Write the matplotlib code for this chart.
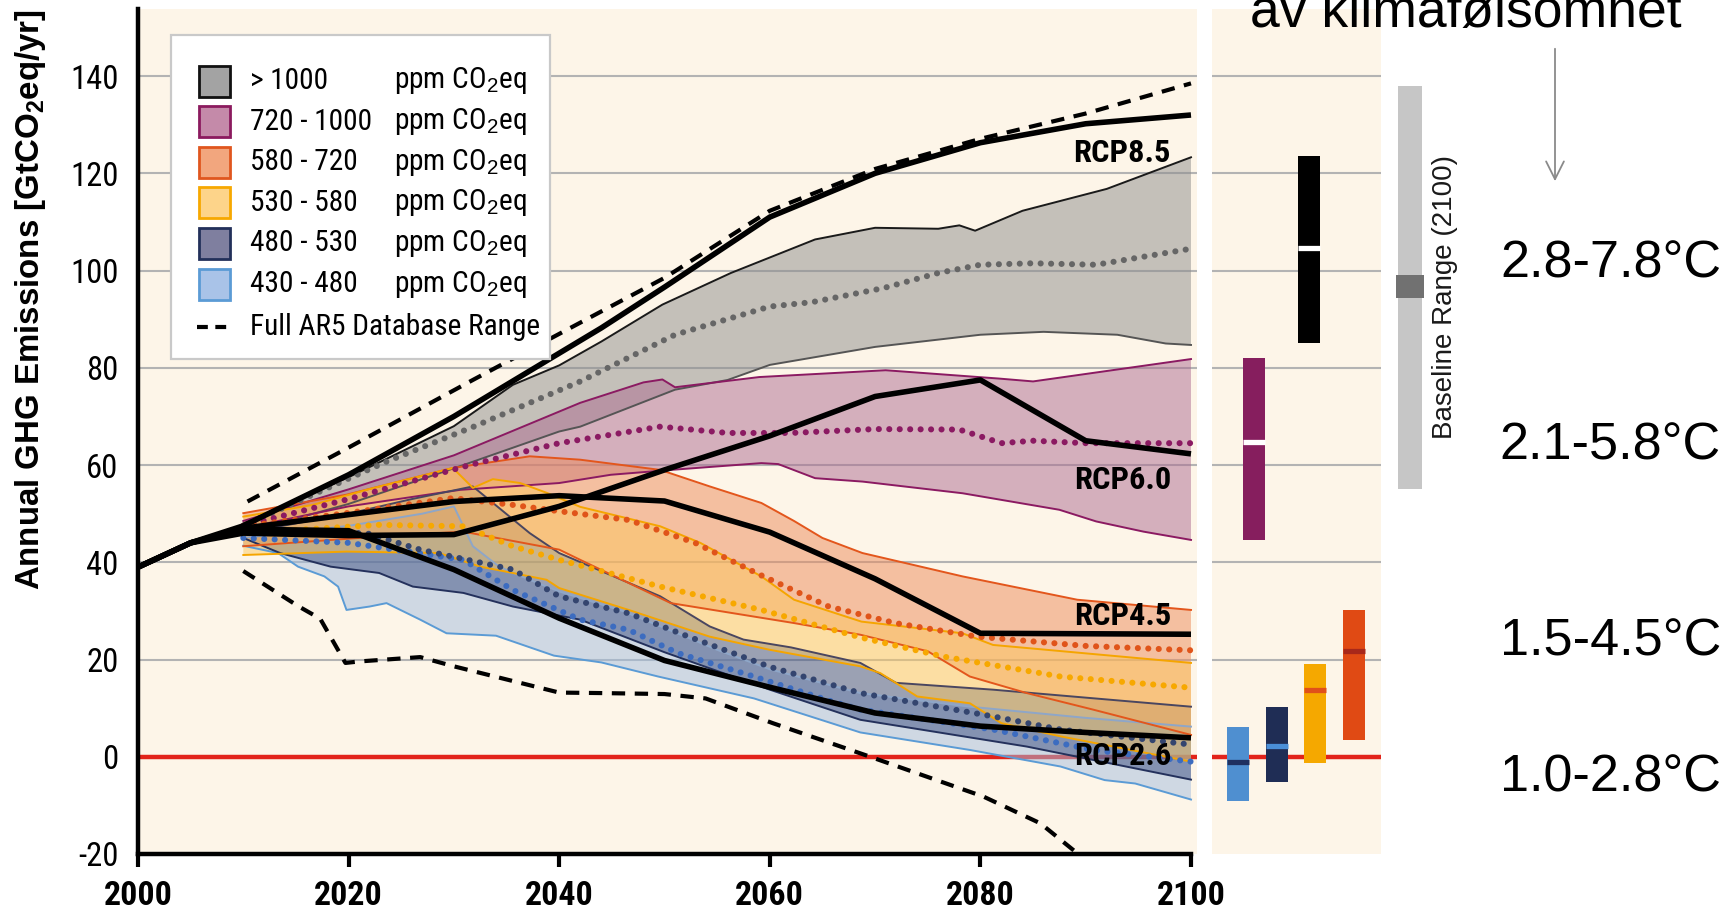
import os
import numpy as np
import matplotlib
matplotlib.use("Agg")
import matplotlib.pyplot as plt
from matplotlib import font_manager as fm
from matplotlib.patches import Rectangle

# ------------------------------------------------------------------ data
# RCP pathways (GtCO2eq/yr)
rcp85_x = [2000, 2005, 2010, 2020, 2030, 2040, 2044, 2050, 2060, 2070, 2080, 2090, 2100]
rcp85_y = [39, 44, 47.5, 58, 70, 83, 88.2, 96.6, 111, 120, 126.3, 130.2, 132]
rcp60_x = [2000, 2005, 2010, 2020, 2030, 2040, 2050, 2060, 2070, 2080, 2090, 2100]
rcp60_y = [39, 44, 46, 45.5, 45.7, 51.5, 59, 66, 74.1, 77.5, 65, 62.3]
rcp45_x = [2000, 2005, 2010, 2020, 2030, 2040, 2050, 2060, 2070, 2080, 2090, 2100]
rcp45_y = [39, 44, 47, 49.8, 52.5, 53.7, 52.6, 46.2, 36.6, 25.4, 25.3, 25.2]
rcp26_x = [2000, 2005, 2010, 2020, 2030, 2040, 2050, 2060, 2070, 2080, 2090, 2100]
rcp26_y = [39, 44, 46.8, 46.5, 38.5, 28.5, 19.8, 14.3, 9, 6.3, 5, 3.9]
rcp_names = ["RCP8.5", "RCP6.0", "RCP4.5", "RCP2.6"]
rcp_label_y = [122.3, 55.0, 27.1, -1.65]

# Full AR5 database range
ar5_hi_x = [2010.4, 2020, 2031.8, 2044, 2050, 2060, 2070, 2080, 2090, 2100]
ar5_hi_y = [52.5, 63.6, 77.5, 91.6, 98.5, 112.3, 120.9, 127.1, 132.3, 138.5]
ar5_lo_x = [2010, 2015.2, 2017.3, 2019.7, 2021, 2026.8, 2030, 2040, 2044, 2050, 2053.9,
            2060.3, 2069.4, 2080.3, 2085.7, 2089]
ar5_lo_y = [38.2, 31, 28.4, 19.3, 19.6, 20.5, 18.6, 13.2, 13.1, 12.9, 12, 6.9, 0.1, -8.2,
            -13.7, -19.5]

# > 1000 ppm
b1000_up_x = [2010, 2020, 2030, 2035.6, 2040, 2044, 2049.8, 2056.3, 2064.3, 2070, 2076, 2078,
              2079.5, 2084, 2092, 2100]
b1000_up_y = [48, 57.5, 68, 76.5, 80.5, 85.4, 93, 99.5, 106.4, 108.8, 108.6, 109.3, 108.2,
              112.3, 116.8, 123.3]
b1000_md_x = [2010, 2023.6, 2032, 2042, 2051, 2060, 2064, 2070.8, 2076, 2080, 2085, 2091, 2100]
b1000_md_y = [47.5, 60.7, 68, 77.2, 86.8, 92.6, 93.5, 96.4, 99.5, 101.2, 101.5, 101.2, 104.5]
b1000_lo_x = [2010, 2020, 2030.9, 2040, 2042, 2051, 2056, 2060, 2070, 2080, 2086, 2093, 2097.6, 2100]
b1000_lo_y = [46, 52, 60, 66.9, 67.9, 75.5, 77.5, 80.6, 84.3, 86.8, 87.4, 86.8, 85, 84.7]

# 720 - 1000 ppm
b720_up_x = [2010, 2020, 2030, 2042, 2048, 2049.8, 2051, 2059, 2071, 2081.7, 2085, 2100]
b720_up_y = [48.5, 55, 62, 72.8, 77, 77.6, 76, 78.1, 79.5, 77.8, 77.2, 81.8]
b720_md_x = [2010, 2020, 2031.5, 2040, 2049.6, 2056, 2062, 2070, 2078, 2082, 2085, 2090, 2100]
b720_md_y = [47.5, 53, 60, 64.5, 67.9, 66.6, 66.6, 67.4, 67.3, 64.5, 65, 64.5, 64.5]
b720_lo_x = [2010, 2020, 2030.6, 2040, 2044.9, 2050.6, 2059.2, 2060.8, 2064.3, 2068.8, 2078.3,
             2087.5, 2091, 2095.5, 2100]
b720_lo_y = [47, 51.5, 54.9, 56.3, 58, 59, 60.4, 60.2, 57.3, 56.6, 54.2, 50.8, 48.4, 46.3, 44.6]

# 580 - 720 ppm
b580_up_x = [2010, 2019.8, 2029.9, 2037.2, 2042, 2049.6, 2054.3, 2059.2, 2062.3, 2065, 2068.8,
             2078.3, 2089.2, 2100]
b580_up_y = [50.1, 53.9, 59.4, 61.8, 61.1, 59, 55.6, 52.2, 48.5, 45, 41.9, 37.1, 32.3, 30.2]
b580_md_x = [2010, 2019.8, 2029.9, 2035.6, 2040, 2046.6, 2052.9, 2059, 2065.6, 2071.9, 2079.7,
             2090, 2100]
b580_md_y = [47.4, 50.1, 53.2, 51.8, 50.5, 48.7, 44, 37.5, 30.9, 27.5, 24.7, 22.8, 21.9]
b580_lo_x = [2010, 2022.9, 2030.9, 2040, 2042, 2050.6, 2062.3, 2068.6, 2075, 2079, 2084.4,
             2090.7, 2100]
b580_lo_y = [43.3, 45.3, 46.3, 42.6, 40.5, 31.6, 27.5, 25.1, 21.7, 16.5, 13.1, 9.7, 4.5]

# 530 - 580 ppm
b530_up_x = [2010, 2016.6, 2021.7, 2029.9, 2031.8, 2033.7, 2036.3, 2038.8, 2042, 2049.6, 2053.4,
             2059.2, 2062.3, 2068.7, 2078.3, 2081.2, 2100]
b530_up_y = [49.4, 51.8, 54.9, 59.4, 55.3, 57.1, 56.3, 54.3, 51.4, 47.4, 44, 37.1, 32.3, 27.8,
             25.4, 23, 19.3]
b530_md_x = [2010, 2022.9, 2030.9, 2035.6, 2040, 2049.6, 2059.2, 2068.7, 2076.5, 2087.6, 2100]
b530_md_y = [46, 47.7, 47.4, 43.3, 40.5, 35, 30.2, 24.5, 20.6, 16.5, 14.2]
b530_lo_x = [2010, 2019.8, 2028.6, 2032.5, 2035.6, 2038.8, 2040, 2046.6, 2054.3, 2060, 2068.6,
             2070.5, 2074, 2079, 2082, 2087.6, 2100]
b530_lo_y = [41.5, 42.2, 41.9, 39.1, 37.8, 36.4, 34.7, 30.2, 24.7, 22, 18.6, 17.2, 12.4, 11,
             6.9, 4.2, -1]

# 480 - 530 ppm
b480_up_x = [2010, 2020, 2026, 2031.8, 2037.2, 2040, 2049.6, 2054.3, 2057.5, 2062, 2068.6, 2072,
             2081.2, 2100]
b480_up_y = [46, 50, 53, 55.6, 46, 41.9, 33, 26.8, 24.1, 22.5, 19.3, 15.2, 13.8, 10.3]
b480_md_x = [2010, 2021.7, 2026.8, 2035.6, 2040, 2046.6, 2052.3, 2060, 2068.6, 2081.2, 2087.6, 2100]
b480_md_y = [46, 46, 42.6, 38.5, 33, 29.5, 24.7, 18.5, 13.1, 8.3, 5.6, 2.5]
b480_lo_x = [2010, 2013.5, 2018.3, 2022.9, 2026.1, 2030.9, 2035.6, 2042, 2050, 2060, 2068.6,
             2084.4, 2100]
b480_lo_y = [45, 41.9, 39.1, 37.8, 35, 33.7, 30.9, 28.2, 21.5, 13.8, 7.6, 2.1, -4.7]

# 430 - 480 ppm
b430_up_x = [2010, 2020, 2027, 2030, 2031.8, 2034.3, 2037.2, 2040, 2046, 2050, 2055, 2060,
             2068.6, 2079, 2090, 2100]
b430_up_y = [45, 47.5, 50, 51.5, 43.3, 39.1, 36.4, 34, 30, 26.5, 22, 18, 13.1, 10.3, 8, 6.2]
b430_md_x = [2010, 2020, 2030.9, 2035.6, 2042, 2046.6, 2051.3, 2058.5, 2065.7, 2068.6, 2081.2,
             2090.7, 2100]
b430_md_y = [45, 44, 40.5, 34.3, 28.2, 26.1, 21.3, 16.5, 11.5, 9.7, 5.6, 1.4, -1]
b430_lo_x = [2010, 2013.3, 2015.2, 2017.7, 2019, 2019.8, 2022, 2023.6, 2026.8, 2029.3, 2034,
             2039.5, 2044, 2049.4, 2058.5, 2065, 2068.6, 2079, 2087.6, 2091.8, 2094.7, 2100]
b430_lo_y = [43.4, 41.9, 39.1, 37.1, 35, 30.2, 30.9, 31.6, 28.2, 25.4, 24.9, 20.8, 19.4, 16.5,
             12, 7.5, 5, 1.4, -2, -4.8, -5.5, -8.8]

# categories (legend order)
categories = ["> 1000", "720 - 1000", "580 - 720", "530 - 580", "480 - 530", "430 - 480"]
unit_label = "ppm CO$_2$eq"
dashed_label = "Full AR5 Database Range"

# 2100 ranges (right panel)
range_low = [85.1, 44.6, 3.4, -1.3, -5.1, -9.05]
range_high = [123.6, 82.1, 30.1, 19.1, 10.2, 6.2]
range_med = [104.7, 64.8, 21.7, 13.8, 2.3, -1.0]

baseline_range = [55, 138]
baseline_core = [94.4, 99.1]

temp_labels = ["2.8-7.8°C", "2.1-5.8°C", "1.5-4.5°C", "1.0-2.8°C"]
top_text = "av klimafølsomhet"

x_ticks = [2000, 2020, 2040, 2060, 2080, 2100]
y_ticks = [-20, 0, 20, 40, 60, 80, 100, 120, 140]

# ------------------------------------------------------------------ style
W, H, DPI = 1733, 914, 100
BG = "#fdf5e8"

_names = {f.name for f in fm.fontManager.ttflist}
SANS = "Liberation Sans" if "Liberation Sans" in _names else "DejaVu Sans"

plt.rcParams["font.family"] = [SANS, "DejaVu Sans"]
plt.rcParams["mathtext.fontset"] = "custom"
plt.rcParams["mathtext.rm"] = SANS
plt.rcParams["mathtext.it"] = SANS + ":italic"
plt.rcParams["mathtext.bf"] = SANS + ":bold"


def find_condensed(bold):
    prefs = ["liberationsansnarrow", "robotocondensed", "notosans-condensed",
             "dejavusanscondensed", "opensans-condensed", "opensanscondensed", "condensed", "narrow"]
    bad = ["italic", "oblique", "light", "thin", "medium", "black", "semi", "extra", "ultra"]
    files = [f.fname for f in fm.fontManager.ttflist]
    for key in prefs:
        for fn in files:
            b = os.path.basename(fn).lower()
            if key not in b or any(x in b for x in bad):
                continue
            if ("bold" in b) == bold:
                return fn
    return None


_cr = find_condensed(False)
_cb = find_condensed(True)


def cond_props(bold, size):
    fn = _cb if bold else _cr
    if fn:
        return fm.FontProperties(fname=fn, size=size)
    return fm.FontProperties(family=SANS, weight="bold" if bold else "normal", size=size)


fill_cols = ["#8c8c8c", "#ad6b91", "#ec8a5a", "#fcc860", "#3b4e80", "#a2bde0"]
edge_up = ["#1a1a1a", "#8b1a62", "#e3561c", "#f5a500", "#4a4660", "#8ea6c8"]
edge_lo = ["#555555", "#8b1a62", "#e3561c", "#f5a500", "#24315c", "#5b9bd5"]
med_cols = ["#666666", "#8b1a62", "#e0541a", "#f7a800", "#34456f", "#3c6cc0"]
leg_fill = ["#a3a3a3", "#c48aa9", "#f2a67e", "#fdd48a", "#7f7f9f", "#a9c3e8"]
leg_edge = ["#111111", "#8b1a5e", "#e0561e", "#f7a800", "#22305a", "#5b9bd5"]
bar_cols = ["#000000", "#861e5e", "#e04a14", "#f5a800", "#1f2d55", "#4f8fd0"]
bar_med_cols = ["#ffffff", "#ffffff", "#a8281a", "#e0501a", "#4a8fd8", "#1f3060"]
bar_pos = [0.574, 0.249, 0.843, 0.609, 0.382, 0.154]
bar_w = 0.13

bands = [
    (b1000_up_x, b1000_up_y, b1000_md_x, b1000_md_y, b1000_lo_x, b1000_lo_y),
    (b720_up_x, b720_up_y, b720_md_x, b720_md_y, b720_lo_x, b720_lo_y),
    (b580_up_x, b580_up_y, b580_md_x, b580_md_y, b580_lo_x, b580_lo_y),
    (b530_up_x, b530_up_y, b530_md_x, b530_md_y, b530_lo_x, b530_lo_y),
    (b480_up_x, b480_up_y, b480_md_x, b480_md_y, b480_lo_x, b480_lo_y),
    (b430_up_x, b430_up_y, b430_md_x, b430_md_y, b430_lo_x, b430_lo_y),
]
fill_order = [0, 1, 5, 4, 2, 3]

# ------------------------------------------------------------------ figure
fig = plt.figure(figsize=(W / DPI, H / DPI), dpi=DPI)
fig.patch.set_facecolor("white")
renderer = fig.canvas.get_renderer()


def fit_width(txt, target_px):
    bb = txt.get_window_extent(renderer)
    if bb.width > 0:
        txt.set_fontsize(txt.get_fontsize() * target_px / bb.width)


ax_bottom = 1 - 854 / H
ax_height = (854 - 9) / H
YLIM = (-20, 153.8)

ax = fig.add_axes([138 / W, ax_bottom, (1197 - 138) / W, ax_height])
ax.set_facecolor(BG)
ax.set_xlim(2000, 2100.57)
ax.set_ylim(*YLIM)

for g in y_ticks[2:]:
    ax.axhline(g, color="#b3b3b3", lw=1.5, zorder=1)
ax.axhline(0, color="#e2231a", lw=3.2, zorder=1.5)

dot = (0, (0.01, 1.7))
for i in fill_order:
    ux, uy, mx, my, lx, ly = bands[i]
    ax.fill(np.r_[ux, lx[::-1]], np.r_[uy, ly[::-1]], color=fill_cols[i], alpha=0.5,
            lw=0, zorder=2)
for i in fill_order:
    ux, uy, mx, my, lx, ly = bands[i]
    ax.plot(ux, uy, color=edge_up[i], lw=1.4, zorder=3)
    ax.plot(lx, ly, color=edge_lo[i], lw=1.4, zorder=3)
for i in fill_order:
    ux, uy, mx, my, lx, ly = bands[i]
    ax.plot(mx, my, color=med_cols[i], lw=4.4, linestyle=dot, dash_capstyle="round", zorder=4)

for xs, ys in [(rcp85_x, rcp85_y), (rcp60_x, rcp60_y), (rcp45_x, rcp45_y), (rcp26_x, rcp26_y)]:
    ax.plot(xs, ys, color="black", lw=4.0, zorder=6, solid_capstyle="butt")
for xs, ys in [(ar5_hi_x, ar5_hi_y), (ar5_lo_x, ar5_lo_y)]:
    ax.plot(xs, ys, color="black", lw=3.0, linestyle=(0, (3.2, 2.3)), zorder=6)

rcp_texts = []
for name, yv in zip(rcp_names, rcp_label_y):
    t = ax.text(2098.1, yv, name, ha="right", va="baseline", fontproperties=cond_props(True, 22),
                zorder=7)
    rcp_texts.append(t)
fit_width(rcp_texts[2], 97)
for t in rcp_texts:
    t.set_fontsize(rcp_texts[2].get_fontsize())

for s in ["top", "right"]:
    ax.spines[s].set_visible(False)
for s in ["left", "bottom"]:
    ax.spines[s].set_linewidth(3.2)
ax.spines["bottom"].set_bounds(2000, 2100)
ax.set_xticks(x_ticks)
ax.set_xticklabels([str(t) for t in x_ticks])
ax.set_yticks(y_ticks)
ax.set_yticklabels([str(t) for t in y_ticks])
for lbl in ax.get_xticklabels():
    lbl.set_fontproperties(cond_props(True, 24.5))
for lbl in ax.get_yticklabels():
    lbl.set_fontproperties(cond_props(False, 23.5))
ax.tick_params(axis="x", length=9.5, width=3, pad=9, direction="out")
ax.tick_params(axis="y", length=0, pad=14)

# ------------------------------------------------------------------ right panel
axr = fig.add_axes([1212 / W, ax_bottom, 169 / W, ax_height])
axr.set_facecolor(BG)
axr.set_xlim(0, 1)
axr.set_ylim(*YLIM)
for s in axr.spines.values():
    s.set_visible(False)
axr.set_xticks([])
axr.set_yticks([])
for g in y_ticks[2:]:
    axr.axhline(g, color="#b3b3b3", lw=1.5, zorder=1)
axr.axhline(0, color="#e2231a", lw=3.2, zorder=1.5)
for p, lo, hi, md, c, mc in zip(bar_pos, range_low, range_high, range_med, bar_cols, bar_med_cols):
    axr.bar(p, hi - lo, bottom=lo, width=bar_w, color=c, zorder=3)
    axr.hlines(md, p - bar_w / 2, p + bar_w / 2, color=mc, lw=3.8, zorder=4)

# ------------------------------------------------------------------ baseline range
axb = fig.add_axes([1390 / W, ax_bottom, 40 / W, ax_height])
axb.axis("off")
axb.set_xlim(0, 1)
axb.set_ylim(*YLIM)
axb.bar(0.5, baseline_range[1] - baseline_range[0], bottom=baseline_range[0], width=0.6,
        color="#c6c6c6")
axb.bar(0.5, baseline_core[1] - baseline_core[0], bottom=baseline_core[0], width=0.7,
        color="#717171")

# ------------------------------------------------------------------ overlay (pixel coords)
ov = fig.add_axes([0, 0, 1, 1], zorder=10)
ov.set_xlim(0, W)
ov.set_ylim(H, 0)
ov.axis("off")

# y label
ov.text(39, 300, "Annual GHG Emissions [GtCO$_\\mathbf{2}$eq/yr]", rotation=90,
        rotation_mode="anchor", ha="center", va="baseline", fontsize=23.8, fontweight="bold")

# legend
ov.add_patch(Rectangle((171, 35), 379, 324, facecolor="white", edgecolor="#c9c9c9", lw=1.6))
row_y = [81, 121.7, 162.3, 202.7, 243.3, 284]
dl = ov.text(250, 327, dashed_label, ha="left", va="center", fontproperties=cond_props(False, 20))
fit_width(dl, 290)
leg_fs = dl.get_fontsize()
for ry, lab, fc, ec in zip(row_y, categories, leg_fill, leg_edge):
    ov.add_patch(Rectangle((199, ry - 15.5), 31, 31, facecolor=fc, edgecolor=ec, lw=2))
    ov.text(250, ry, lab, ha="left", va="center", fontproperties=cond_props(False, leg_fs))
    ov.text(394, ry, unit_label, ha="left", va="center", fontproperties=cond_props(False, leg_fs))
ov.plot([197, 233], [327, 327], color="black", lw=3, linestyle=(0, (2.6, 1.8)))

# right-hand annotations
ov.text(1445, 297, "Baseline Range (2100)", rotation=90, ha="center", va="center",
        fontsize=20, color="#1a1a1a")
for lab, by in zip(temp_labels, [277, 459, 655, 791]):
    ov.text(1721, by, lab, ha="right", va="baseline", fontsize=37.5, color="black")
ov.text(1250, 27, top_text, ha="left", va="baseline", fontsize=38.5, color="black")
ov.annotate("", xy=(1555, 184), xytext=(1555, 46),
            arrowprops=dict(arrowstyle="->", color="#8a8a8a", lw=1.3, mutation_scale=32))

fig.savefig("out.png", dpi=DPI, facecolor="white")
